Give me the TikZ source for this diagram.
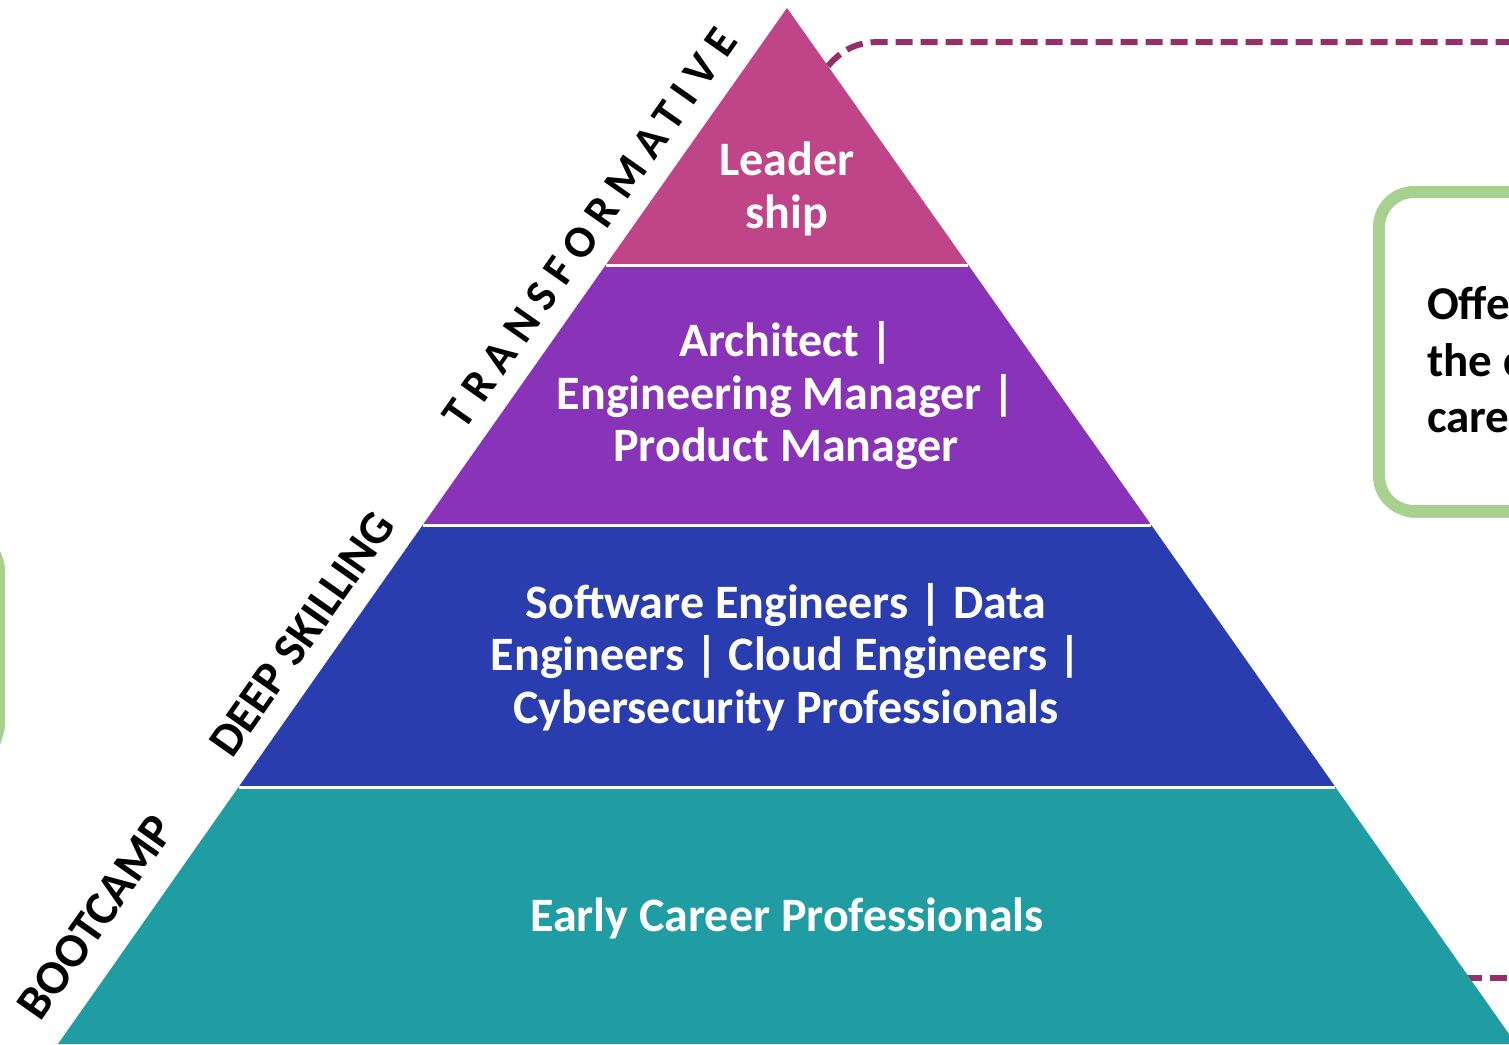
\documentclass[tikz,border=0pt]{standalone}
\usepackage{fontspec}
\setmainfont{Carlito}
\definecolor{pinkL}{HTML}{C04488}
\definecolor{purpL}{HTML}{8833B8}
\definecolor{blueL}{HTML}{2A3DAF}
\definecolor{tealL}{HTML}{209DA3}
\definecolor{dashC}{HTML}{962E6A}
\definecolor{greenB}{HTML}{A9D18E}
\tikzset{
  layertext/.style={text=white, align=center, font=\bfseries\fontsize{48}{52.5}\selectfont},
  sidelabel/.style={text=black, font=\bfseries\fontsize{47}{50}\selectfont, rotate=54.87, inner sep=0pt},
  dashline/.style={draw=dashC, line width=6pt, dash pattern=on 17pt off 8pt},
  greenbox/.style={draw=greenB, line width=12pt, fill=white, rounded corners=35pt},
  boxshadow/.style={fill=black!45, opacity=0.45, rounded corners=35pt},
  sepline/.style={draw=white, line width=3pt},
  boxtext/.style={text=black, align=left, inner sep=0pt, font=\bfseries\fontsize{47}{56.5}\selectfont}
}
\begin{document}
\begin{tikzpicture}[x=1pt,y=-1pt]
\useasboundingbox (0,0) rectangle (1509,1044);
\clip (0,0) rectangle (1509,1044);
% connectors (behind the pyramid)
\coordinate (dA) at (828,66);
\coordinate (dB) at (1515,42);
\coordinate (dC) at (1440,978);
\coordinate (dD) at (1515,978);
\draw[dashline] (dA) .. controls (842,50) and (856,42) .. (880,42) -- (dB);
\draw[dashline] (dC) -- (dD);
% right green box
\fill[boxshadow] (1380,197) rectangle (1570,518);
\draw[greenbox] (1379,192) rectangle (1570,511);
\node[boxtext, anchor=west] (rtext) at (1427,360) {Offer\\the c\\caree};
% left green box
\fill[boxshadow] (-200,541) rectangle (3,766);
\draw[greenbox] (-200,536) rectangle (-1,758);
% pyramid layers
\fill[pinkL] (787,8) -- (968.3,265) -- (605.7,265) -- cycle;
\fill[purpL] (605.7,265) -- (968.3,265) -- (1151.3,525) -- (422.7,525) -- cycle;
\fill[blueL] (422.7,525) -- (1151.3,525) -- (1335.4,787) -- (238.6,787) -- cycle;
\fill[tealL] (238.6,787) -- (1335.4,787) -- (1516,1044) -- (58,1044) -- cycle;
\draw[sepline] (605.7,265) -- (968.3,265);
\draw[sepline] (422.7,525) -- (1151.3,525);
\draw[sepline] (238.6,787) -- (1335.4,787);
% layer texts
\node[layertext] (lead) at (787,189) {Leader\\ship};
\node[layertext] (arch) at (786,396) {Architect |\\Engineering Manager |\\Product Manager};
\node[layertext] (soft) at (786,657) {Software Engineers | Data\\Engineers | Cloud Engineers |\\Cybersecurity Professionals};
\node[layertext] (early) at (787,918) {Early Career Professionals};
% side labels
\node[sidelabel, font=\bfseries\fontsize{45}{48}\selectfont\addfontfeature{LetterSpace=22}] (trans) at (590,228) {TRANSFORMATIVE};
\node[sidelabel] (deep) at (302,634) {DEEP SKILLING};
\node[sidelabel, font=\bfseries\fontsize{48}{50}\selectfont] (boot) at (96,917) {BOOTCAMP};
\end{tikzpicture}
\end{document}
